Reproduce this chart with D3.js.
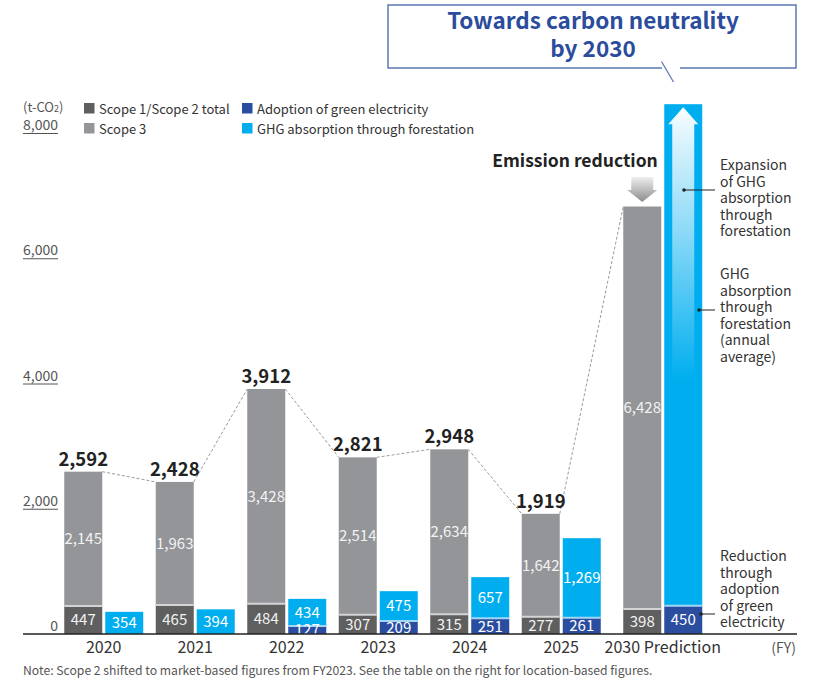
<!DOCTYPE html>
<html><head><meta charset="utf-8">
<script src="https://cdn.jsdelivr.net/npm/d3@7"></script>
<style>
body{margin:0;background:#fff}
svg{display:block}
text{font-family:"Noto Sans CJK JP","Noto Sans",sans-serif}
</style>
</head><body>
<svg id="c" width="814" height="693"></svg>
<script>
// ---- data ----
const years = ["2020","2021","2022","2023","2024","2025","2030 Prediction"];
const scope12 = [447,465,484,307,315,277,398];
const scope3 = [2145,1963,3428,2514,2634,1642,6428];
const totals = [2592,2428,3912,2821,2948,1919,null];
const greenElec = [0,0,127,209,251,261,450];
const forestation = [354,394,434,475,657,1269,8010]; // 2030 value estimated (unlabelled)
const forestLabels = [true,true,true,true,true,true,false];
const yTicks = [0,2000,4000,6000,8000];
const legendItems = [
  {name:"Scope 1/Scope 2 total", key:"s12"},
  {name:"Scope 3", key:"s3"},
  {name:"Adoption of green electricity", key:"green"},
  {name:"GHG absorption through forestation", key:"forest"}
];
const notes = [
  {lines:["Expansion","of GHG","absorption","through","forestation"]},
  {lines:["GHG","absorption","through","forestation","(annual","average)"]},
  {lines:["Reduction","through","adoption","of green","electricity"]}
];

const colors = {s12:"#5f5f60", s3:"#939598", green:"#2a4d9f", forest:"#00aeef"};

const svg = d3.select("#c");
const defs = svg.append("defs");

const y = d3.scaleLinear().domain([0,8000]).range([634,133]);
const x = d3.scaleBand().domain(years).range([58,698.5]).paddingInner(0.1366).paddingOuter(0.0683);
const barW = 38, gap = 3;
const gx = (d,i) => x(d) + (i === years.length-1 ? 10 : 0);

const rows = years.map((yr,i)=>({yr,i,s12:scope12[i],s3:scope3[i],tot:totals[i],g:greenElec[i],f:forestation[i]}));

// ---- y tick labels ----
const yt = svg.append("g");
yTicks.forEach(v=>{
  yt.append("text").attr("x",58).attr("y",y(v)-3).attr("text-anchor","end")
    .attr("font-size",14).attr("fill","#555").text(d3.format(",")(v));
  if (v>0) yt.append("line").attr("x1",23).attr("x2",58).attr("y1",y(v)+0.5).attr("y2",y(v)+0.5)
    .attr("stroke","#555").attr("stroke-width",1);
});

// ---- legend ----
const lg = svg.append("g");
const unit = lg.append("text").attr("x",23).attr("y",112).attr("font-size",13).attr("fill","#555");
unit.append("tspan").text("(t-CO");
unit.append("tspan").attr("font-size",9).text("2");
unit.append("tspan").text(")");
const legPos = [[84,103],[84,123],[242,103],[242,123]];
legendItems.forEach((it,k)=>{
  const [lx,ly]=legPos[k];
  lg.append("rect").attr("x",lx).attr("y",ly).attr("width",10.5).attr("height",10.5).attr("fill",colors[it.key]);
  lg.append("text").attr("x",lx+15).attr("y",ly+10.5).attr("font-size",13).attr("fill","#333").text(it.name);
});

// ---- connectors ----
const cg = svg.append("g");
for (let i=0;i<rows.length-1;i++){
  const a=rows[i], b=rows[i+1];
  cg.append("line")
    .attr("x1",gx(a.yr,i)+barW).attr("y1",y(a.s12+a.s3))
    .attr("x2",gx(b.yr,i+1)).attr("y2",y(b.s12+b.s3))
    .attr("stroke","#9a9a9a").attr("stroke-width",1).attr("stroke-dasharray","3,2");
}

// ---- emission bars ----
const eg = svg.append("g");
rows.forEach(r=>{
  const x0 = gx(r.yr,r.i);
  eg.append("rect").attr("x",x0).attr("width",barW).attr("y",y(r.s12+r.s3)).attr("height",y(r.s12)-y(r.s12+r.s3)).attr("fill",colors.s3);
  eg.append("rect").attr("x",x0).attr("width",barW).attr("y",y(r.s12)).attr("height",y(0)-y(r.s12)).attr("fill",colors.s12);
  eg.append("line").attr("x1",x0).attr("x2",x0+barW).attr("y1",y(r.s12)).attr("y2",y(r.s12)).attr("stroke","#d4d4d6").attr("stroke-width",2);
  eg.append("text").attr("x",x0+barW/2).attr("y",(y(r.s12)+y(0))/2).attr("dy","0.36em").attr("text-anchor","middle")
    .attr("font-size",15).attr("fill","#f2f2f2").text(d3.format(",")(r.s12));
  eg.append("text").attr("x",x0+barW/2).attr("y",(y(r.s12)+y(r.s12+r.s3))/2).attr("dy","0.36em").attr("text-anchor","middle")
    .attr("font-size",15).attr("fill","#f2f2f2").text(d3.format(",")(r.s3));
  if (r.tot!=null){
    eg.append("text").attr("x",x0+barW/2).attr("y",y(r.s12+r.s3)-6).attr("text-anchor","middle")
      .attr("font-size",18.5).attr("font-weight","bold").attr("fill","#222").text(d3.format(",")(r.tot));
  }
});

// ---- offset bars ----
const og = svg.append("g");
const arrowGrad = defs.append("linearGradient").attr("id","ag").attr("gradientUnits","userSpaceOnUse")
  .attr("x1",0).attr("x2",0).attr("y1",108).attr("y2",380);
arrowGrad.append("stop").attr("offset",0).attr("stop-color","#ffffff").attr("stop-opacity",0.97);
arrowGrad.append("stop").attr("offset",0.45).attr("stop-color","#ffffff").attr("stop-opacity",0.55);
arrowGrad.append("stop").attr("offset",1).attr("stop-color","#ffffff").attr("stop-opacity",0);

rows.forEach(r=>{
  const x0 = gx(r.yr,r.i)+barW+gap;
  og.append("rect").attr("x",x0).attr("width",barW).attr("y",y(r.g+r.f)).attr("height",y(r.g)-y(r.g+r.f)).attr("fill",colors.forest);
  if (r.g>0){
    og.append("rect").attr("x",x0).attr("width",barW).attr("y",y(r.g)).attr("height",y(0)-y(r.g)).attr("fill",colors.green);
    og.append("line").attr("x1",x0).attr("x2",x0+barW).attr("y1",y(r.g)).attr("y2",y(r.g)).attr("stroke","#a3d6f2").attr("stroke-width",2);
  }
  if (forestLabels[r.i]){
    og.append("text").attr("x",x0+barW/2).attr("y",(y(r.g)+y(r.g+r.f))/2).attr("dy","0.36em").attr("text-anchor","middle")
      .attr("font-size",15).attr("fill","#fff").text(d3.format(",")(r.f));
  } else {
    // upward arrow inside the 2030 forestation bar
    const cx = x0+barW/2, top = y(r.g+r.f)+3;
    og.append("path").attr("d",`M${cx},${top} L${cx+15},${top+17} L${cx+11},${top+17} L${cx+11},${top+280} L${cx-11},${top+280} L${cx-11},${top+17} L${cx-15},${top+17} Z`)
      .attr("fill","url(#ag)");
  }
  if (r.g>0){
    og.append("text").attr("x",x0+barW/2).attr("y",(y(r.g)+y(0))/2).attr("dy","0.36em").attr("text-anchor","middle")
      .attr("font-size",15).attr("fill","#fff").text(d3.format(",")(r.g));
  }
});

// ---- axis ----
svg.append("line").attr("x1",23).attr("x2",797).attr("y1",y(0)).attr("y2",y(0)).attr("stroke","#222").attr("stroke-width",1.5);
rows.forEach(r=>{
  svg.append("text").attr("x",gx(r.yr,r.i)+barW+gap/2).attr("y",653).attr("text-anchor","middle")
    .attr("font-size",16).attr("fill","#333").text(r.yr);
});
svg.append("text").attr("x",796).attr("y",653).attr("text-anchor","end").attr("font-size",14).attr("fill","#555").text("(FY)");
svg.append("text").attr("x",23).attr("y",675).attr("font-size",12.2).attr("fill","#555")
  .text("Note: Scope 2 shifted to market-based figures from FY2023. See the table on the right for location-based figures.");

// ---- emission reduction ----
const last = rows[rows.length-1];
const ex = gx(last.yr,last.i)+barW/2;
const eGrad = defs.append("linearGradient").attr("id","eg").attr("x1",0).attr("x2",0).attr("y1",0).attr("y2",1);
eGrad.append("stop").attr("offset",0).attr("stop-color","#eeeeee");
eGrad.append("stop").attr("offset",1).attr("stop-color","#8c8c8e");
svg.append("path").attr("d",`M${ex-11},177 L${ex+11},177 L${ex+11},190 L${ex+15},190 L${ex},202 L${ex-15},190 L${ex-11},190 Z`).attr("fill","url(#eg)");
svg.append("text").attr("x",575).attr("y",167).attr("text-anchor","middle").attr("font-size",17.5).attr("font-weight","bold").attr("fill","#222").text("Emission reduction");

// ---- annotations ----
const noteBase = [170,279,561];
const leaders = [[684,190],[699,310],[701,614]];
notes.forEach((n,k)=>{
  const t = svg.append("text").attr("font-size",14).attr("fill","#333");
  n.lines.forEach((ln,j)=>t.append("tspan").attr("x",720).attr("y",noteBase[k]+j*16.5).text(ln));
  const [lx,ly]=leaders[k];
  svg.append("line").attr("x1",lx).attr("x2",715).attr("y1",ly).attr("y2",ly).attr("stroke","#222").attr("stroke-width",1);
  svg.append("circle").attr("cx",lx).attr("cy",ly).attr("r",1.8).attr("fill","#222");
});

// ---- callout ----
svg.append("path").attr("d","M662,68 H388 V5 H796 V68 H680").attr("fill","none").attr("stroke","#5b78b6").attr("stroke-width",1.5);
svg.append("line").attr("x1",661.5).attr("y1",61.5).attr("x2",673.5).attr("y2",82).attr("stroke","#5b78b6").attr("stroke-width",1.3);
svg.append("text").attr("x",593).attr("y",29).attr("text-anchor","middle").attr("font-size",22.5).attr("font-weight","bold").attr("fill","#2b4c9c").text("Towards carbon neutrality");
svg.append("text").attr("x",593).attr("y",57).attr("text-anchor","middle").attr("font-size",22.5).attr("font-weight","bold").attr("fill","#2b4c9c").text("by 2030");
</script>
</body></html>
